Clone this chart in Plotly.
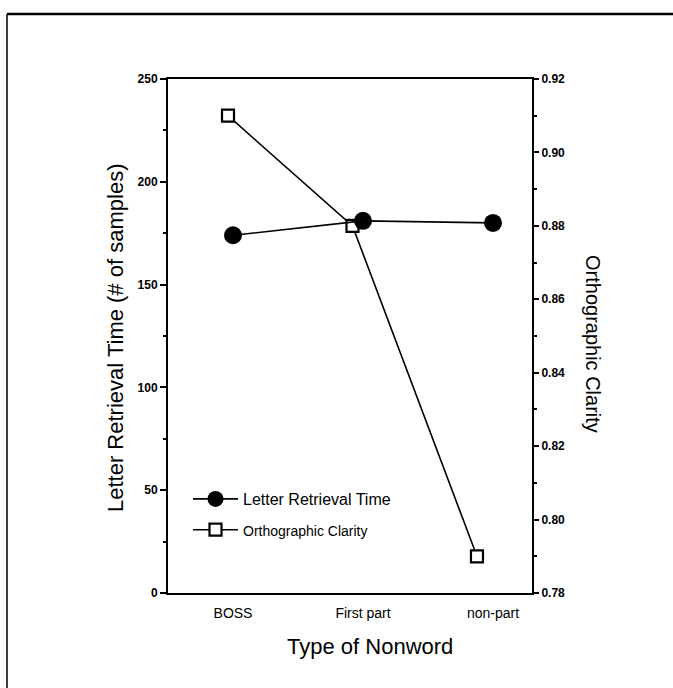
import plotly.graph_objects as go

# ---- data ----
categories = ["BOSS", "First part", "non-part"]
letter_retrieval_time = [174, 181, 180]
orthographic_clarity = [0.910, 0.880, 0.790]

left_tick_vals = [0, 50, 100, 150, 200, 250]
left_tick_text = ["0", "50", "100", "150", "200", "250"]
right_tick_vals = [0.78, 0.80, 0.82, 0.84, 0.86, 0.88, 0.90, 0.92]
right_tick_text = ["0.78", "0.80", "0.82", "0.84", "0.86", "0.88", "0.90", "0.92"]

left_minor = [(a + b) / 2 for a, b in zip(left_tick_vals[:-1], left_tick_vals[1:])]
right_minor = [(a + b) / 2 for a, b in zip(right_tick_vals[:-1], right_tick_vals[1:])]

FONT = "Liberation Sans, Arial, sans-serif"
W, H = 673, 688
L, R, T, B = 168, 532, 79, 593  # plot area in pixels


def px_x(p):
    return (p - L) / (R - L)


def px_y(p):
    return (B - p) / (B - T)


fig = go.Figure()

# Orthographic clarity (main axes: x / y on the right side)
fig.add_trace(go.Scatter(
    x=categories, y=orthographic_clarity,
    name='<span style="font-size:14px">Orthographic Clarity</span>',
    xaxis="x", yaxis="y", mode="lines+markers",
    line=dict(color="black", width=1.6),
    marker=dict(symbol="square", size=12, color="white",
                line=dict(color="black", width=2.2)),
    legendrank=2, legendgroup="b",
))

# Letter retrieval time (overlaid axes: x2 / y2 on the left side)
fig.add_trace(go.Scatter(
    x=categories, y=letter_retrieval_time, name="Letter Retrieval Time",
    xaxis="x2", yaxis="y2", mode="lines+markers",
    line=dict(color="black", width=1.6),
    marker=dict(symbol="circle", size=18, color="black"),
    legendrank=1, legendgroup="a",
))

fig.update_layout(
    width=W, height=H, autosize=False,
    margin=dict(l=L, r=W - R, t=T, b=H - B, pad=0),
    paper_bgcolor="white", plot_bgcolor="white",
    font=dict(family=FONT, color="black"),
    showlegend=True,
    legend=dict(
        x=px_x(188), y=px_y(482), xanchor="left", yanchor="top",
        bgcolor="rgba(0,0,0,0)", font=dict(size=16, family=FONT),
        itemwidth=45, tracegroupgap=7, traceorder="grouped",
    ),
    xaxis=dict(
        domain=[0, 1], range=[-0.482, 2.442], visible=False,
        anchor="y", type="category",
    ),
    yaxis=dict(
        side="right", anchor="x", range=[0.78, 0.92],
        tickmode="array", tickvals=right_tick_vals, ticktext=right_tick_text,
        ticks="outside", ticklen=5, tickwidth=1.5, tickcolor="black",
        minor=dict(tickvals=right_minor, ticks="outside", ticklen=3,
                   tickwidth=1.5, tickcolor="black"),
        showline=True, linewidth=2, linecolor="black",
        showgrid=False, zeroline=False,
        tickfont=dict(size=12, family=FONT, weight="bold"),
    ),
    xaxis2=dict(
        overlaying="x", anchor="y2", range=[-0.5, 2.3], type="category",
        showline=True, mirror=True, linewidth=2, linecolor="black",
        ticks="", showgrid=False, zeroline=False,
        tickfont=dict(size=14, family=FONT),
        ticklabelstandoff=6,
    ),
    yaxis2=dict(
        overlaying="y", side="left", anchor="x2", range=[0, 250],
        tickmode="array", tickvals=left_tick_vals, ticktext=left_tick_text,
        ticks="outside", ticklen=6, tickwidth=1.5, tickcolor="black",
        minor=dict(tickvals=left_minor, ticks="outside", ticklen=3,
                   tickwidth=1.5, tickcolor="black"),
        showline=True, linewidth=2, linecolor="black",
        showgrid=False, zeroline=False,
        tickfont=dict(size=12, family=FONT, weight="bold"),
    ),
    annotations=[
        dict(text="Letter Retrieval Time (# of samples)", xref="paper", yref="paper",
             x=px_x(115), y=px_y(338), textangle=-90, showarrow=False,
             xanchor="center", yanchor="middle", font=dict(size=22, family=FONT)),
        dict(text="Orthographic Clarity", xref="paper", yref="paper",
             x=px_x(593), y=px_y(344), textangle=90, showarrow=False,
             xanchor="center", yanchor="middle", font=dict(size=20, family=FONT)),
        dict(text="Type of Nonword", xref="paper", yref="paper",
             x=px_x(370), y=px_y(646), showarrow=False,
             xanchor="center", yanchor="middle", font=dict(size=22, family=FONT)),
    ],
    shapes=[
        dict(type="line", xref="paper", yref="paper",
             x0=px_x(7), x1=px_x(673), y0=px_y(14), y1=px_y(14),
             line=dict(color="black", width=2.5)),
        dict(type="line", xref="paper", yref="paper",
             x0=px_x(7), x1=px_x(7), y0=px_y(14), y1=px_y(688),
             line=dict(color="black", width=1.5)),
    ],
)

fig.write_html("out.html")
